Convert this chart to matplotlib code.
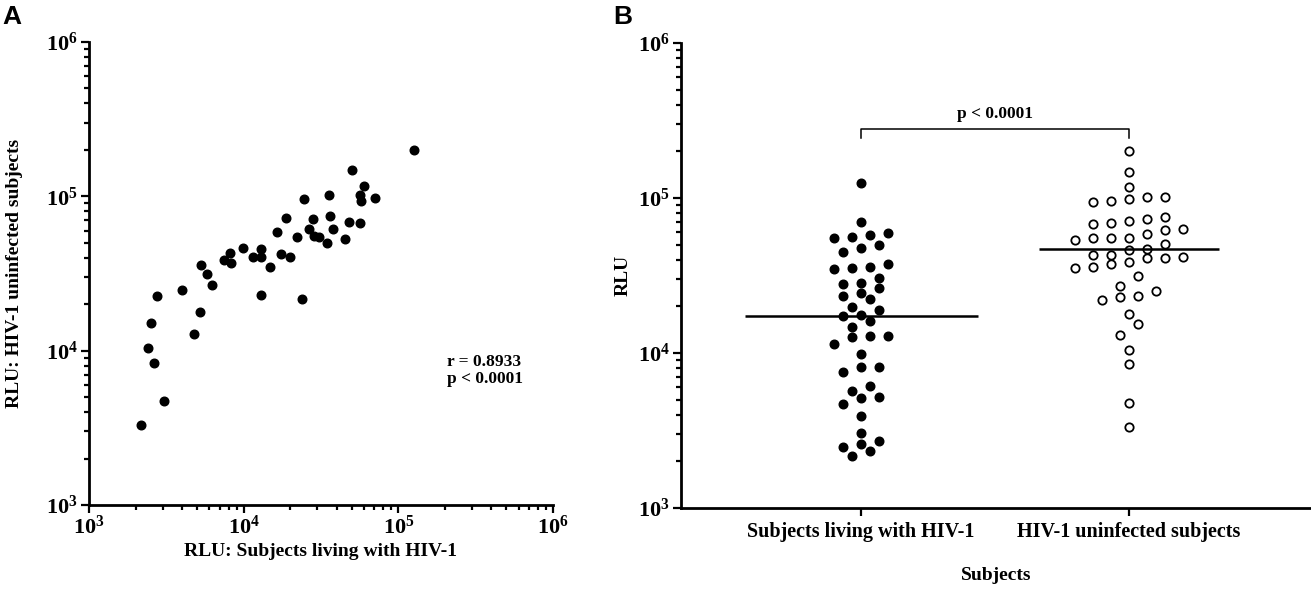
import numpy as np
import matplotlib
matplotlib.use('Agg')
from matplotlib import pyplot as plt
from matplotlib.ticker import LogLocator, FuncFormatter, NullFormatter

# panel A: paired RLU values (x = subjects living with HIV-1, y = HIV-1 uninfected)
rlu_hiv_a = [2160, 3070, 2400, 2630, 2520, 2740, 4770, 5220, 3980, 5270, 5770, 6270,
             7490, 8150, 8280, 9850, 11430, 12880, 12940, 12990, 14790, 16420, 17420,
             18850, 19920, 22120, 23710, 24640, 26310, 28180, 28310, 30540, 34710,
             35430, 35970, 37780, 44980, 47720, 50350, 56210, 56450, 57560, 59670,
             70580, 126100]
rlu_neg_a = [3300, 4740, 10410, 8360, 15110, 22720, 12890, 17740, 24740, 35750, 31410,
             26770, 38700, 42760, 37170, 46520, 40650, 40650, 45820, 22960, 35010,
             58510, 42530, 72440, 40290, 54800, 21730, 95720, 61180, 71090, 55640,
             54570, 50120, 102100, 74300, 61770, 52970, 68230, 147600, 67580, 101700,
             93350, 116200, 97680, 200000]
corr_text = 'r = 0.8933\np < 0.0001'

# panel B: RLU per group
groups = ['Subjects living with HIV-1', 'HIV-1 uninfected subjects']
rlu_hiv_b = [125600, 70340, 57720, 49770, 55440, 47350, 56280, 44630, 59730, 37350,
             35550, 35880, 34660, 30320, 26150, 28170, 24500, 27870, 23430, 22200,
             19900, 18940, 17590, 16170, 17330, 14650, 12740, 12940, 12880, 11430,
             9800, 8160, 8080, 7580, 6150, 5180, 5710, 5130, 4690, 3900, 3030, 2490,
             2710, 2340, 2590, 2170]
rlu_neg_b = [201900, 147800, 117200, 101900, 98060, 96090, 94240, 101900, 72850, 69300,
             67940, 75060, 71410, 62820, 62180, 54980, 55440, 53580, 55200, 58860,
             50490, 47110, 46210, 42880, 40810, 41430, 41190, 42880, 38820, 36060,
             37530, 35500, 31520, 27180, 22880, 21870, 23330, 25120, 17930, 15310,
             13060, 10460, 8460, 4760, 3350]
medians = [17300, 46700]
p_text = 'p < 0.0001'

plt.rcParams['font.family'] = 'Liberation Serif'
plt.rcParams['font.weight'] = 'bold'
plt.rcParams['mathtext.fontset'] = 'custom'
plt.rcParams['mathtext.rm'] = 'Liberation Serif:bold'
plt.rcParams['mathtext.bf'] = 'Liberation Serif:bold'


def pow10(v, pos):
    return r'$\mathbf{10^{%d}}$' % round(np.log10(v))


def style_log_axis(axis):
    axis.set_major_locator(LogLocator(base=10, numticks=10))
    axis.set_minor_locator(LogLocator(base=10, subs=np.arange(2, 10), numticks=10))
    axis.set_major_formatter(FuncFormatter(pow10))
    axis.set_minor_formatter(NullFormatter())


def swarm(vals, row_h=9.0, step=18.0, px_dec=155.0, px_unit=268.0):
    # simple row-binned beeswarm, like the column scatter in the figure
    y = np.log10(vals) * px_dec
    order = np.argsort(y)
    offs = np.zeros(len(vals))
    i = 0
    while i < len(order):
        j = i
        while j + 1 < len(order) and y[order[j + 1]] - y[order[i]] < row_h:
            j += 1
        row = order[i:j + 1]
        n = len(row)
        offs[row] = (np.arange(n) - (n - 1) / 2) * step / px_unit
        i = j + 1
    return offs


fig = plt.figure(figsize=(13.11, 5.90), dpi=100)

# ---- panel A
ax1 = fig.add_axes([0.0679, 0.1441, 0.3539, 0.7847])
ax1.plot(rlu_hiv_a, rlu_neg_a, 'o', color='black', ms=6.2, clip_on=False)
ax1.set_xscale('log')
ax1.set_yscale('log')
ax1.set_xlim(1e3, 1e6)
ax1.set_ylim(1e3, 1e6)
style_log_axis(ax1.xaxis)
style_log_axis(ax1.yaxis)
ax1.set_xlabel('RLU: Subjects living with HIV-1', fontsize=14, fontweight='bold')
ax1.set_ylabel('RLU: HIV-1 uninfected subjects', fontsize=14, fontweight='bold')
ax1.yaxis.set_label_coords(-0.142, 0.5)
ax1.xaxis.set_label_coords(0.5, -0.082)
ax1.text(0.771, 0.29, corr_text, transform=ax1.transAxes, fontsize=12.5,
         fontweight='bold', va='center', ha='left', linespacing=1.1)

# ---- panel B
ax2 = fig.add_axes([0.5195, 0.139, 0.4805, 0.788])
xpos = np.arange(len(groups))
off1 = swarm(rlu_hiv_b, row_h=9.0)
off2 = swarm(rlu_neg_b, row_h=11.0)
ax2.plot(xpos[0] + off1, rlu_hiv_b, 'o', color='black', ms=6.2, clip_on=False)
ax2.plot(xpos[1] + off2, rlu_neg_b, 'o', mfc='white', mec='black', mew=1.3, ms=6,
         clip_on=False)
ax2.hlines(medians[0], xpos[0] - 0.435, xpos[0] + 0.435, color='black', lw=1.8)
ax2.hlines(medians[1], xpos[1] - 0.335, xpos[1] + 0.335, color='black', lw=1.8)
ax2.set_yscale('log')
ax2.set_ylim(1e3, 1e6)
ax2.set_xlim(-0.672, 1.679)
style_log_axis(ax2.yaxis)
ax2.set_xticks(xpos)
ax2.set_xticklabels(groups, fontsize=14.5, fontweight='bold')
ax2.set_ylabel('RLU', fontsize=14, fontweight='bold')
ax2.yaxis.set_label_coords(-0.078, 0.5)
ax2.set_xlabel('Subjects', fontsize=14, fontweight='bold')
ax2.xaxis.set_label_coords(0.5, -0.128)

# significance bracket
top, foot = 278600, 243700
ax2.plot([xpos[0], xpos[0], xpos[1], xpos[1]], [foot, top, top, foot],
         color='black', lw=1.1)
ax2.annotate(p_text, xy=((xpos[0] + xpos[1]) / 2, top), xytext=(0, 5),
             textcoords='offset points', ha='center', va='bottom', fontsize=12.5,
             fontweight='bold')

for ax in (ax1, ax2):
    for s in ('top', 'right'):
        ax.spines[s].set_visible(False)
    for s in ('left', 'bottom'):
        ax.spines[s].set_linewidth(2.0)
    ax.tick_params(which='major', length=6, width=1.6, labelsize=16, pad=2)
    ax.tick_params(which='minor', length=3.8, width=1.6)
ax2.tick_params(axis='x', which='major', labelsize=14.5, pad=4)

fig.text(0.002, 0.992, 'A', fontsize=19, fontweight='bold', family='Liberation Sans',
         va='top', ha='left')
fig.text(0.4676, 0.992, 'B', fontsize=19, fontweight='bold', family='Liberation Sans',
         va='top', ha='left')

fig.savefig('out.png', dpi=100)
